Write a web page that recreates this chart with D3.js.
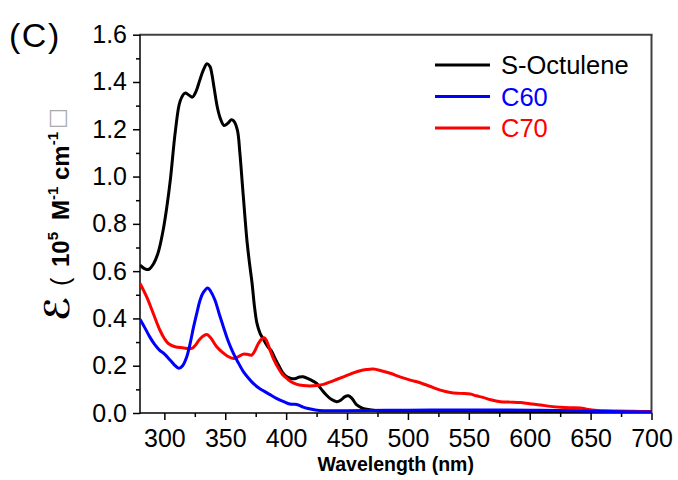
<!DOCTYPE html>
<html>
<head>
<meta charset="utf-8">
<script src="https://cdn.jsdelivr.net/npm/d3@7"></script>
<style>
  body { margin: 0; background: #fff; }
  svg { font-family: "Liberation Sans", Arial, sans-serif; }
</style>
</head>
<body>
<svg id="chart" width="678" height="480"></svg>
<script>
// absorption spectra
const octuleneNm = [280, 284, 287, 291, 295, 299, 302, 305, 309, 313, 317, 320, 323, 326, 329, 332, 335, 337.5, 339, 341, 343.5, 346, 349, 352, 355, 357, 360, 362, 364, 366, 368, 370, 372, 374, 376, 378.6, 381, 385, 388, 391, 394, 397, 400.6, 404, 407, 411, 414, 418, 422, 425, 429, 433, 437, 441.7, 445, 448, 451, 454, 458, 462, 466, 475, 500, 550, 600, 650, 700];
const octuleneEps = [0.625, 0.61, 0.607, 0.63, 0.68, 0.773, 0.87, 0.99, 1.19, 1.32, 1.353, 1.345, 1.336, 1.36, 1.406, 1.45, 1.477, 1.465, 1.434, 1.37, 1.293, 1.245, 1.216, 1.225, 1.24, 1.235, 1.195, 1.1, 0.97, 0.84, 0.72, 0.63, 0.55, 0.45, 0.38, 0.337, 0.315, 0.28, 0.262, 0.23, 0.2, 0.172, 0.153, 0.146, 0.145, 0.152, 0.153, 0.145, 0.135, 0.125, 0.1, 0.076, 0.058, 0.048, 0.055, 0.068, 0.073, 0.062, 0.034, 0.022, 0.016, 0.01, 0.008, 0.008, 0.006, 0.005, 0.004];

const c60Nm = [280, 284, 288, 292, 296, 300, 304.7, 308, 312, 315, 318.4, 321, 324, 327, 329.3, 332, 335.6, 338, 341.6, 345, 348.5, 352, 356.7, 361, 365, 369, 373, 377, 381.3, 386, 392, 398, 403, 407, 410, 414, 418, 424, 431, 450, 500, 550, 600, 640, 655, 700];
const c60Eps = [0.396, 0.36, 0.322, 0.29, 0.266, 0.25, 0.224, 0.205, 0.189, 0.2, 0.238, 0.29, 0.364, 0.43, 0.477, 0.51, 0.529, 0.515, 0.477, 0.42, 0.364, 0.31, 0.252, 0.21, 0.174, 0.148, 0.125, 0.108, 0.094, 0.08, 0.062, 0.048, 0.038, 0.037, 0.034, 0.025, 0.019, 0.013, 0.01, 0.01, 0.012, 0.013, 0.012, 0.01, 0.007, 0.004];

const c70Nm = [280, 285.5, 290.9, 296.4, 300, 303.3, 308.8, 315, 322.5, 326, 328, 331, 334.8, 338, 343, 348, 352, 356.7, 360, 364.9, 368, 371.8, 374, 377.2, 380, 381.9, 384, 386.8, 390, 393.7, 397, 400.6, 404, 408.8, 414, 419.7, 425, 430.7, 438, 447, 454, 460.8, 466, 471.7, 478, 485.5, 494, 502, 510, 518, 526.6, 534.8, 543, 551.2, 556, 562.2, 568, 575.9, 584, 592.3, 600, 608.8, 617, 625.2, 633, 641.6, 648, 655.4, 663, 671.8, 685, 700];
const c70Eps = [0.548, 0.491, 0.421, 0.35, 0.315, 0.294, 0.28, 0.276, 0.273, 0.29, 0.305, 0.322, 0.332, 0.318, 0.28, 0.255, 0.24, 0.231, 0.236, 0.249, 0.248, 0.245, 0.26, 0.294, 0.313, 0.318, 0.305, 0.266, 0.225, 0.189, 0.163, 0.146, 0.132, 0.121, 0.116, 0.114, 0.116, 0.121, 0.135, 0.153, 0.167, 0.179, 0.184, 0.186, 0.179, 0.168, 0.152, 0.139, 0.128, 0.113, 0.097, 0.087, 0.083, 0.08, 0.073, 0.065, 0.056, 0.048, 0.046, 0.044, 0.039, 0.034, 0.028, 0.024, 0.022, 0.021, 0.015, 0.011, 0.009, 0.008, 0.007, 0.006];

const seriesNames = ["S-Octulene", "C60", "C70"];
const seriesColors = ["#000000", "#0000ff", "#ff0000"];
const xTicks = [300, 350, 400, 450, 500, 550, 600, 650, 700];
const yTicks = [0.0, 0.2, 0.4, 0.6, 0.8, 1.0, 1.2, 1.4, 1.6];

const svg = d3.select("#chart");
const mLeft = 140, mRight = 651.5, mTop = 34.7, mBottom = 413;

const x = d3.scaleLinear().domain([280, 700]).range([mLeft, mRight]);
const y = d3.scaleLinear().domain([0, 1.6]).range([mBottom, mTop]);

// minor ticks first (no labels)
svg.append("g")
    .attr("transform", `translate(0,${mBottom})`)
    .call(d3.axisBottom(x).tickValues(d3.range(275, 701, 25).filter(v => v % 50 !== 0 && v > 280)).tickSize(4).tickFormat(""))
    .call(g => g.select(".domain").remove())
    .call(g => g.selectAll("line").attr("stroke", "#000").attr("stroke-width", 1.5));
svg.append("g")
    .attr("transform", `translate(${mLeft},0)`)
    .call(d3.axisLeft(y).tickValues(d3.range(0.1, 1.6, 0.2)).tickSize(4).tickFormat(""))
    .call(g => g.select(".domain").remove())
    .call(g => g.selectAll("line").attr("stroke", "#000").attr("stroke-width", 1.5));

// major ticks
const xAxis = svg.append("g")
    .attr("transform", `translate(0,${mBottom})`)
    .call(d3.axisBottom(x).tickValues(xTicks).tickSize(7).tickPadding(9).tickSizeOuter(0));
xAxis.select(".domain").remove();
xAxis.selectAll("line").attr("stroke", "#000").attr("stroke-width", 1.5);
xAxis.selectAll("text").attr("font-size", 25).attr("font-family", "Liberation Sans, Arial, sans-serif").attr("fill", "#000");

const yAxis = svg.append("g")
    .attr("transform", `translate(${mLeft},0)`)
    .call(d3.axisLeft(y).tickValues(yTicks).tickSize(7).tickPadding(6).tickFormat(d3.format(".1f")));
yAxis.select(".domain").remove();
yAxis.selectAll("line").attr("stroke", "#000").attr("stroke-width", 1.5);
yAxis.selectAll("text").attr("font-size", 25).attr("font-family", "Liberation Sans, Arial, sans-serif").attr("fill", "#000");

// frame
svg.append("line").attr("x1", mLeft - 1).attr("x2", mRight + 1).attr("y1", mTop).attr("y2", mTop)
    .attr("stroke", "#404040").attr("stroke-width", 2);
svg.append("line").attr("x1", mRight).attr("x2", mRight).attr("y1", mTop).attr("y2", mBottom)
    .attr("stroke", "#404040").attr("stroke-width", 2);
svg.append("line").attr("x1", mLeft).attr("x2", mLeft).attr("y1", mTop).attr("y2", mBottom + 0.75)
    .attr("stroke", "#000").attr("stroke-width", 1.5);
svg.append("line").attr("x1", mLeft).attr("x2", mRight).attr("y1", mBottom).attr("y2", mBottom)
    .attr("stroke", "#000").attr("stroke-width", 1.5);

// spectra
svg.append("clipPath").attr("id", "plot")
    .append("rect").attr("x", mLeft).attr("y", mTop).attr("width", mRight - mLeft).attr("height", mBottom - mTop);

const line = d3.line()
    .x(d => x(d[0]))
    .y(d => y(d[1]))
    .curve(d3.curveCatmullRom.alpha(0.5));

const series = [
    d3.zip(octuleneNm, octuleneEps),
    d3.zip(c60Nm, c60Eps),
    d3.zip(c70Nm, c70Eps)
];
// draw C70 and C60 under the black curve, like the original
[0, 2, 1].forEach(i => {
    svg.append("path")
        .attr("clip-path", "url(#plot)")
        .attr("d", line(series[i]))
        .attr("fill", "none")
        .attr("stroke", seriesColors[i])
        .attr("stroke-width", 3)
        .attr("stroke-linejoin", "round");
});

// legend
const legend = svg.append("g");
seriesNames.forEach((name, i) => {
    const ly = 65 + i * 31.5;
    legend.append("line").attr("x1", 435).attr("x2", 490).attr("y1", ly).attr("y2", ly)
        .attr("stroke", seriesColors[i]).attr("stroke-width", 3);
    legend.append("text").attr("x", 501).attr("y", ly + 9)
        .attr("font-size", 25.5).attr("fill", seriesColors[i]).text(name);
});

// axis titles
svg.append("text")
    .attr("x", (mLeft + mRight) / 2).attr("y", 471)
    .attr("text-anchor", "middle")
    .attr("font-size", 19.5).attr("font-weight", "bold")
    .text("Wavelength (nm)");

// y title: rotated, each piece placed along the axis (x here = -screen y)
const yTitle = svg.append("text")
    .attr("transform", "translate(69,0) rotate(-90)")
    .attr("font-size", 24).attr("font-weight", "bold");
yTitle.append("tspan").attr("x", -321).attr("font-size", 34).attr("font-family", "DejaVu Sans, sans-serif").text("ℰ");
yTitle.append("tspan").attr("x", -286).attr("font-weight", "normal").attr("font-size", 25).text("(");
yTitle.append("tspan").attr("x", -267).text("10");
yTitle.append("tspan").attr("font-size", 15).attr("dy", -11).text("5");
yTitle.append("tspan").attr("x", -220).attr("dy", 11).text("M");
yTitle.append("tspan").attr("font-size", 15).attr("dy", -11).text("-1");
yTitle.append("tspan").attr("x", -180).attr("dy", 11).text("cm");
yTitle.append("tspan").attr("font-size", 15).attr("dy", -11).text("-1");
yTitle.append("tspan").attr("x", -129).attr("dy", 6).attr("font-weight", "normal").attr("font-size", 22)
    .attr("fill", "#aaa").attr("font-family", "DejaVu Sans, sans-serif").text("□");

// panel label
svg.append("text").attr("x", 9).attr("y", 47).attr("font-size", 34).attr("letter-spacing", 1.5).text("(C)");
</script>
</body>
</html>
